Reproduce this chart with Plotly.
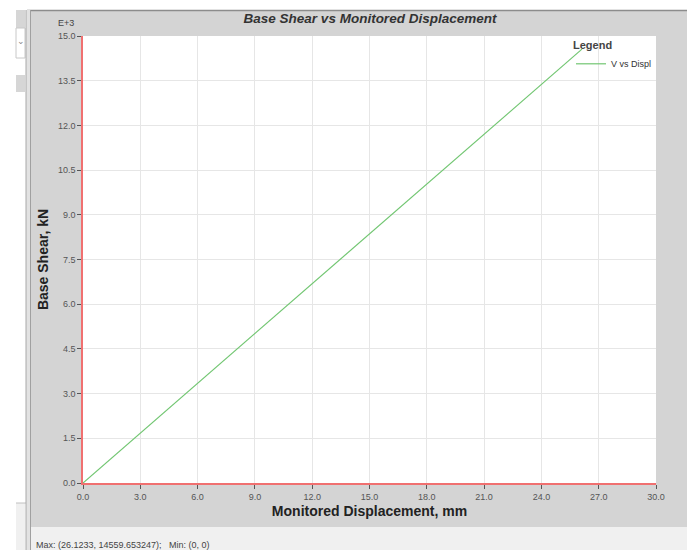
import plotly.graph_objects as go

# ---- data ----
displacement_mm = [0.0, 26.1233]
base_shear_kN = [0.0, 14559.653247]
series_name = "V vs Displ"

x_tick_vals = [0, 3, 6, 9, 12, 15, 18, 21, 24, 27, 30]
x_tick_text = ["0.0", "3.0", "6.0", "9.0", "12.0", "15.0", "18.0", "21.0", "24.0", "27.0", "30.0"]
y_tick_vals = [0, 1500, 3000, 4500, 6000, 7500, 9000, 10500, 12000, 13500, 15000]
y_tick_text = ["0.0", "1.5", "3.0", "4.5", "6.0", "7.5", "9.0", "10.5", "12.0", "13.5", "15.0"]

OFF = 8  # page body margin
W, H = 696 - OFF, 550 - OFF
# plot area in page pixels
PL, PR, PT, PB = 83, 656, 36, 483
L, R, T, B = PL - OFF, PR - OFF, PT - OFF, PB - OFF


def px(x):
    return (x - PL) / (PR - PL)


def py(y):
    return (PB - y) / (PB - PT)


fig = go.Figure()
fig.add_trace(go.Scatter(
    x=displacement_mm, y=base_shear_kN, mode="lines", name=series_name,
    line=dict(color="#72c672", width=1.2), showlegend=True,
))

shapes = []


def rect(x0, y0, x1, y1, fill, line=None, lw=0):
    shapes.append(dict(type="rect", xref="paper", yref="paper",
                       x0=px(x0), x1=px(x1), y0=py(y0), y1=py(y1),
                       fillcolor=fill, line=dict(color=line or fill, width=lw),
                       layer="below"))


def hline(x0, x1, y, color, lw=1):
    shapes.append(dict(type="line", xref="paper", yref="paper",
                       x0=px(x0), x1=px(x1), y0=py(y), y1=py(y),
                       line=dict(color=color, width=lw), layer="below"))


def vline(x, y0, y1, color, lw=1):
    shapes.append(dict(type="line", xref="paper", yref="paper",
                       x0=px(x), x1=px(x), y0=py(y0), y1=py(y1),
                       line=dict(color=color, width=lw), layer="below"))


# chart panel
rect(31, 10, 687, 527, "#d4d4d4")
rect(31, 527, 687, 550, "#f0f0f0")
hline(27, 687, 10.5, "#8c8c8c", 1.5)
# left strip widgets
rect(16, 10, 25, 28, "#d6d6d6")
rect(16, 28, 25, 58, "#ffffff", "#c8c8c8", 1)
rect(16, 75, 25, 92, "#d6d6d6")
rect(16, 503, 25, 550, "#f0f0f0")
hline(16, 27, 503, "#c0c0c0")
rect(26, 10, 31, 550, "#e2e2e2")
vline(26, 10, 550, "#a8a8a8")
vline(30.5, 10, 550, "#a0a0a0")
# white plot area
rect(PL, PT, PR, PB, "#ffffff")

annotations = [
    dict(text="E+3", xref="paper", yref="paper", x=px(66), y=py(23),
         xanchor="center", yanchor="middle",
         showarrow=False, font=dict(size=9, color="#444", family="Liberation Sans, Arial")),
    dict(text="Max: (26.1233, 14559.653247);   Min: (0, 0)", xref="paper", yref="paper",
         x=px(34), y=py(545), xanchor="left", yanchor="middle", showarrow=False,
         font=dict(size=9, color="#444", family="Liberation Sans, Arial")),
    dict(text="⌄", xref="paper", yref="paper", x=px(20.5), y=py(41),
         xanchor="center", yanchor="middle",
         showarrow=False, font=dict(size=9, color="#888")),
]

axis_common = dict(
    showgrid=True, gridcolor="#e6e6e6", gridwidth=1,
    showline=True, linecolor="#f07070", linewidth=1.5,
    ticks="outside", ticklen=4, tickcolor="#555", tickwidth=1,
    tickfont=dict(size=9, color="#555", family="Liberation Sans, Arial"),
    zeroline=False, mirror=False,
)

fig.update_layout(
    width=W, height=H,
    margin=dict(l=L, r=W - R, t=T, b=H - B),
    paper_bgcolor="#ffffff", plot_bgcolor="rgba(0,0,0,0)",
    title=dict(text="Base Shear vs Monitored Displacement", x=(370 - OFF) / W, xanchor="center",
               y=1 - (18 - OFF) / H, yanchor="middle",
               font=dict(size=13.5, color="#333", family="Liberation Sans, Arial",
                         weight="bold", style="italic")),
    xaxis=dict(range=[0, 30], tickvals=x_tick_vals, ticktext=x_tick_text,
               title=dict(text="Monitored Displacement, mm", standoff=6,
                          font=dict(size=14, color="#222", family="Liberation Sans, Arial",
                                    weight="bold")),
               **axis_common),
    yaxis=dict(range=[0, 15000], tickvals=y_tick_vals, ticktext=y_tick_text,
               title=dict(text="Base Shear, kN", standoff=6,
                          font=dict(size=14, color="#222", family="Liberation Sans, Arial",
                                    weight="bold")),
               **axis_common),
    legend=dict(x=px(571), y=py(35), xanchor="left", yanchor="top",
                bgcolor="rgba(0,0,0,0)", borderwidth=0, itemwidth=30, tracegroupgap=0,
                title=dict(text="<b>Legend</b>", side="top",
                           font=dict(size=11, color="#444", family="Liberation Sans, Arial")),
                font=dict(size=9, color="#333", family="Liberation Sans, Arial")),
    shapes=shapes,
    annotations=annotations,
    showlegend=True,
)

fig.write_html("out.html")
